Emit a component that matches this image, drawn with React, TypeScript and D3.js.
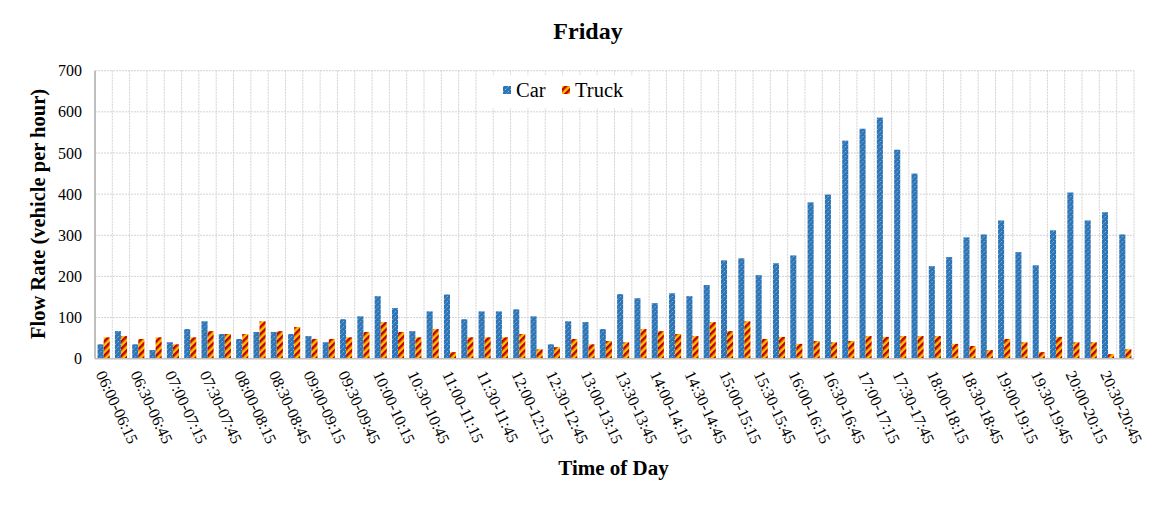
import React, { useEffect, useRef } from 'react';
import * as d3 from 'd3';

const categories = [
  '06:00-06:15', '06:15-06:30', '06:30-06:45', '06:45-07:00',
  '07:00-07:15', '07:15-07:30', '07:30-07:45', '07:45-08:00',
  '08:00-08:15', '08:15-08:30', '08:30-08:45', '08:45-09:00',
  '09:00-09:15', '09:15-09:30', '09:30-09:45', '09:45-10:00',
  '10:00-10:15', '10:15-10:30', '10:30-10:45', '10:45-11:00',
  '11:00-11:15', '11:15-11:30', '11:30-11:45', '11:45-12:00',
  '12:00-12:15', '12:15-12:30', '12:30-12:45', '12:45-13:00',
  '13:00-13:15', '13:15-13:30', '13:30-13:45', '13:45-14:00',
  '14:00-14:15', '14:15-14:30', '14:30-14:45', '14:45-15:00',
  '15:00-15:15', '15:15-15:30', '15:30-15:45', '15:45-16:00',
  '16:00-16:15', '16:15-16:30', '16:30-16:45', '16:45-17:00',
  '17:00-17:15', '17:15-17:30', '17:30-17:45', '17:45-18:00',
  '18:00-18:15', '18:15-18:30', '18:30-18:45', '18:45-19:00',
  '19:00-19:15', '19:15-19:30', '19:30-19:45', '19:45-20:00',
  '20:00-20:15', '20:15-20:30', '20:30-20:45', '20:45-21:00',
];

const car = [
  35, 67, 35, 21, 40, 72, 91, 60, 48, 65, 65, 60, 55, 40, 96, 103,
  152, 123, 67, 115, 156, 96, 115, 115, 120, 103, 35, 91, 89, 72, 157, 147,
  135, 159, 152, 179, 239, 244, 203, 232, 251, 380, 399, 530, 559, 586,
  508, 450, 225, 247, 295, 302, 336, 259, 227, 312, 404, 336, 356, 302,
];

const truck = [
  52, 55, 48, 52, 35, 52, 67, 60, 60, 91, 67, 77, 48, 48, 52, 65,
  89, 65, 52, 72, 16, 52, 52, 52, 60, 23, 28, 48, 35, 43, 40, 72,
  67, 60, 55, 89, 67, 91, 48, 53, 36, 43, 40, 43, 55, 53,
  55, 55, 55, 36, 31, 21, 48, 40, 16, 53, 40, 40, 11, 23,
];

const yTicks = [0, 100, 200, 300, 400, 500, 600, 700];
const seriesNames = ['Car', 'Truck'];

export default ({ width = 1176, height = 508 }) => {
  const svgRef = useRef<SVGSVGElement>(null);

  function loadGraph(elm: SVGSVGElement) {
    const left = 95, right = 1134, top = 70.7, bottom = 358.7;
    const serif = '"Liberation Serif", "Times New Roman", serif';

    const svg = d3.select(elm);
    svg.selectAll('*').remove();
    svg.attr('width', width).attr('height', height);

    const defs = svg.append('defs');
    const pc = defs.append('pattern')
      .attr('id', 'carPat')
      .attr('patternUnits', 'userSpaceOnUse')
      .attr('width', 5).attr('height', 5);
    pc.append('rect').attr('width', 5).attr('height', 5).attr('fill', '#2e75b6');
    pc.append('path')
      .attr('d', 'M0,5 L5,0')
      .attr('stroke', '#8db6e2')
      .attr('stroke-width', 1)
      .attr('stroke-dasharray', '2,1.6');

    const pt = defs.append('pattern')
      .attr('id', 'truckPat')
      .attr('patternUnits', 'userSpaceOnUse')
      .attr('width', 5).attr('height', 5)
      .attr('patternTransform', 'rotate(45)');
    pt.append('rect').attr('width', 5).attr('height', 5).attr('fill', '#ffc000');
    pt.append('rect').attr('width', 2.5).attr('height', 5).attr('fill', '#c00000');

    const x0 = d3.scaleBand<string>()
      .domain(categories)
      .range([left, right])
      .paddingInner(0.3)
      .paddingOuter(0.15);
    const x1 = d3.scaleBand<string>()
      .domain(seriesNames)
      .range([0, x0.bandwidth()]);
    const y = d3.scaleLinear().domain([0, 700]).range([bottom, top]);
    const step = x0.step();

    // grid
    const grid = svg.append('g');
    grid.selectAll('line.h')
      .data(yTicks.filter(d => d > 0))
      .enter()
      .append('line')
      .attr('x1', left).attr('x2', right)
      .attr('y1', d => y(d)).attr('y2', d => y(d))
      .attr('stroke', '#d2d2d2')
      .attr('stroke-dasharray', '2,1');
    grid.selectAll('line.v')
      .data(d3.range(1, categories.length + 1))
      .enter()
      .append('line')
      .attr('x1', i => left + i * step).attr('x2', i => left + i * step)
      .attr('y1', top).attr('y2', bottom)
      .attr('stroke', '#d2d2d2')
      .attr('stroke-dasharray', '2,1');

    // bars
    const groups = svg.append('g')
      .selectAll('g')
      .data(categories)
      .enter()
      .append('g')
      .attr('transform', d => 'translate(' + x0(d) + ',0)');

    groups.append('rect')
      .attr('x', x1('Car')!)
      .attr('width', x1.bandwidth())
      .attr('y', (d, i) => y(car[i]))
      .attr('height', (d, i) => bottom - y(car[i]))
      .attr('fill', 'url(#carPat)');

    groups.append('rect')
      .attr('x', x1('Truck')!)
      .attr('width', x1.bandwidth())
      .attr('y', (d, i) => y(truck[i]))
      .attr('height', (d, i) => bottom - y(truck[i]))
      .attr('fill', 'url(#truckPat)');

    // axes lines
    svg.append('line')
      .attr('x1', left).attr('x2', left)
      .attr('y1', top).attr('y2', bottom)
      .attr('stroke', '#bfbfbf').attr('stroke-width', 2);
    svg.append('line')
      .attr('x1', left).attr('x2', right)
      .attr('y1', bottom).attr('y2', bottom)
      .attr('stroke', '#bfbfbf').attr('stroke-width', 1.5);

    // y tick labels
    svg.append('g')
      .selectAll('text')
      .data(yTicks)
      .enter()
      .append('text')
      .text(d => d)
      .attr('x', 82)
      .attr('y', d => y(d))
      .attr('dy', '0.35em')
      .attr('text-anchor', 'end')
      .attr('font-family', serif)
      .attr('font-size', '16px')
      .attr('fill', '#000');

    // x tick labels
    svg.append('g')
      .selectAll('text')
      .data(categories.filter((d, i) => i % 2 === 0))
      .enter()
      .append('text')
      .text(d => d)
      .attr('transform', d => {
        const cx = x0(d)! + x0.bandwidth() / 2;
        return 'translate(' + (cx - 3) + ',' + (bottom + 13) + ') rotate(65)';
      })
      .attr('dy', '0.35em')
      .attr('text-anchor', 'start')
      .attr('font-family', serif)
      .attr('font-size', '16px')
      .attr('fill', '#000');

    // title
    svg.append('text')
      .text('Friday')
      .attr('x', 588).attr('y', 39)
      .attr('text-anchor', 'middle')
      .attr('font-family', serif)
      .attr('font-weight', 'bold')
      .attr('font-size', '24px');

    // axis titles
    svg.append('text')
      .text('Time of Day')
      .attr('x', (left + right) / 2 - 1).attr('y', 475)
      .attr('text-anchor', 'middle')
      .attr('font-family', serif)
      .attr('font-weight', 'bold')
      .attr('font-size', '21px');

    svg.append('text')
      .text('Flow Rate (vehicle per hour)')
      .attr('transform', 'translate(45,214) rotate(-90)')
      .attr('text-anchor', 'middle')
      .attr('font-family', serif)
      .attr('font-weight', 'bold')
      .attr('font-size', '20.5px');

    // legend
    const lg = svg.append('g');
    lg.append('rect')
      .attr('x', 488).attr('y', 75)
      .attr('width', 154).attr('height', 33)
      .attr('fill', '#fff');
    const items = [
      { name: 'Car', fill: 'url(#carPat)', sx: 503, tx: 516 },
      { name: 'Truck', fill: 'url(#truckPat)', sx: 562, tx: 575 },
    ];
    items.forEach(it => {
      lg.append('rect')
        .attr('x', it.sx).attr('y', 86)
        .attr('width', 8).attr('height', 8)
        .attr('fill', it.fill);
      lg.append('text')
        .text(it.name)
        .attr('x', it.tx).attr('y', 97)
        .attr('font-family', serif)
        .attr('font-size', '20.5px');
    });
  }

  useEffect(() => {
    if (svgRef.current) {
      loadGraph(svgRef.current);
    }
  }, [svgRef.current]);

  return <svg ref={svgRef} style={{ position: 'absolute', left: 0, top: 0, background: '#fff' }}></svg>;
}
